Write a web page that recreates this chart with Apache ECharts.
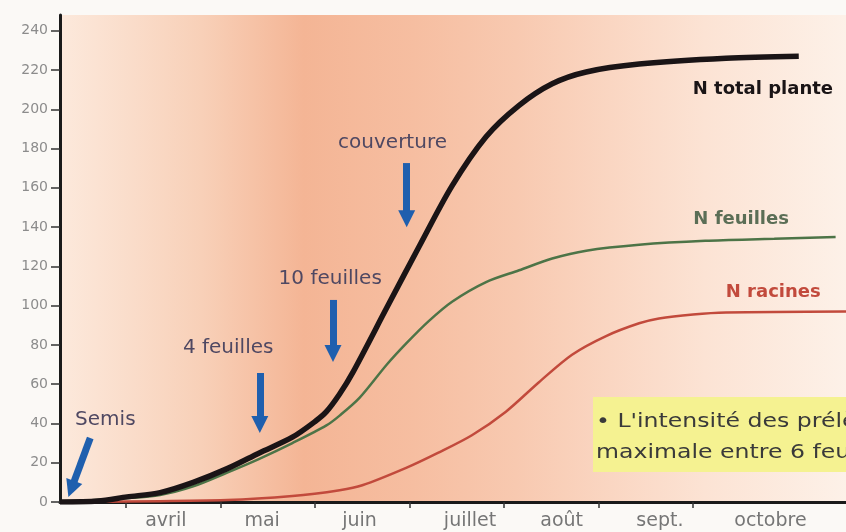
<!DOCTYPE html>
<html>
<head>
<meta charset="utf-8">
<script src="https://cdn.jsdelivr.net/npm/echarts@6/dist/echarts.min.js"></script>
<style>
	html, body { margin: 0; padding: 0; background: #fbf9f6; }
	#chart { width: 846px; height: 532px; }
</style>
</head>
<body>
<div id="chart"></div>
<script>
// axe x en mois, 0 = début avril
const months = ["avril", "mai", "juin", "juillet", "août", "sept.", "octobre"];
const monthStarts = [0, 1, 2, 3, 4, 5, 6];
const monthLabelAt = [0.42, 1.44, 2.47, 3.64, 4.61, 5.65, 6.82];
const yTicks = [0, 20, 40, 60, 80, 100, 120, 140, 160, 180, 200, 220, 240];

// N total plante
const totalX = [-0.7, -0.3, 0.01, 0.36, 0.71, 1.07, 1.41, 1.76, 2.0, 2.12, 2.26, 2.4, 2.76, 3.1, 3.45, 3.81, 4.16, 4.51, 4.87, 5.43, 6.35, 7.12];
const totalY = [0, 0.5, 2.6, 4.8, 10, 17, 25, 33, 41, 46, 55, 66, 99, 130, 161, 186, 202, 213, 219, 223, 226, 227];
// N feuilles
const leafX = [-0.7, 0.01, 0.36, 0.71, 1.07, 1.41, 1.76, 2.12, 2.26, 2.47, 2.76, 2.97, 3.2, 3.45, 3.81, 4.16, 4.51, 4.87, 5.43, 6.13, 6.86, 7.51];
const leafY = [0, 2, 3.6, 8, 15, 22, 30, 39, 44, 53, 70, 81, 92, 102, 112, 118, 124, 128, 131, 133, 134, 135];
// N racines
const rootX = [-0.7, 1.07, 1.76, 2.26, 2.5, 2.97, 3.3, 3.66, 4.02, 4.37, 4.72, 5.08, 5.43, 5.64, 6.0, 6.35, 7.62];
const rootY = [0, 1, 3, 6, 8.5, 17.5, 25, 34, 46, 61, 75, 84.5, 91, 93.5, 95.5, 96.5, 97];

// stades
const stages = ["Semis", "4 feuilles", "10 feuilles", "couverture"];
const stageLabelX = [-0.22, 1.08, 2.16, 2.82];
const stageLabelY = [41.8, 78.4, 113.5, 182.8];
const arrowFrom = [[-0.38, 32.6], [1.415, 65.7], [2.19, 102.9], [2.97, 172.6]];
const arrowTo = [[-0.58, 6.6], [1.415, 39.5], [2.19, 75.6], [2.97, 144.3]];

// noms des courbes
const curveNames = ["N total plante", "N feuilles", "N racines"];
const curveLabelX = [6.74, 6.51, 6.85];
const curveLabelY = [210.3, 144.1, 106.9];

const noteText = "• L'intensité des prélèvements\nmaximale entre 6 feuilles";

const zip = (xs, ys) => xs.map((x, i) => [x, ys[i]]);
const curveColors = ["#1a1416", "#5b6e56", "#c24a3c"];
const font = "DejaVu Sans";

var myChart = echarts.init(document.getElementById("chart"));
var option = {
	animation: false,
	backgroundColor: "#fbf9f6",
	grid: {
		left: 60,
		right: 0,
		top: 15,
		bottom: 30,
		show: true,
		borderWidth: 0,
		backgroundColor: new echarts.graphic.LinearGradient(0, 0, 1, 0, [
			{ offset: 0, color: "#fce9dc" },
			{ offset: 0.18, color: "#f8d0b8" },
			{ offset: 0.31, color: "#f4b595" },
			{ offset: 0.45, color: "#f6bea1" },
			{ offset: 0.58, color: "#f8c9b0" },
			{ offset: 0.7, color: "#fad6c2" },
			{ offset: 0.82, color: "#fce3d4" },
			{ offset: 1, color: "#fdf1e8" },
		]),
	},
	xAxis: {
		type: "value",
		min: -0.7,
		max: 7.62,
		splitLine: { show: false },
		axisLine: { show: true, onZero: false, lineStyle: { color: "#1a1a1a", width: 3 } },
		axisTick: {
			show: true,
			customValues: monthStarts,
			length: 6,
			lineStyle: { color: "#333", width: 1.5 },
		},
		axisLabel: {
			customValues: monthLabelAt,
			margin: 10,
			color: "#767676",
			fontFamily: font,
			fontSize: 19,
			formatter: function (v) {
				var best = 0;
				monthLabelAt.forEach(function (m, i) {
					if (Math.abs(m - v) < Math.abs(monthLabelAt[best] - v)) best = i;
				});
				return months[best];
			},
		},
	},
	yAxis: {
		type: "value",
		min: 0,
		max: 248,
		splitLine: { show: false },
		axisLine: { show: true, onZero: false, lineStyle: { color: "#1a1a1a", width: 3 } },
		axisTick: {
			show: true,
			customValues: yTicks,
			length: 9,
			lineStyle: { color: "#333", width: 1.5 },
		},
		axisLabel: {
			customValues: yTicks,
			margin: 12,
			color: "#8c8c8c",
			fontFamily: font,
			fontSize: 14,
		},
	},
	series: [
		{
			name: "N racines",
			type: "line",
			data: zip(rootX, rootY),
			showSymbol: false,
			smooth: 0.3,
			lineStyle: { color: curveColors[2], width: 2.5 },
			z: 2,
		},
		{
			name: "N feuilles",
			type: "line",
			data: zip(leafX, leafY),
			showSymbol: false,
			smooth: 0.3,
			lineStyle: { color: "#4d7447", width: 2.5 },
			z: 3,
		},
		{
			name: "N total plante",
			type: "line",
			data: zip(totalX, totalY),
			showSymbol: false,
			smooth: 0.3,
			lineStyle: { color: curveColors[0], width: 5.5 },
			z: 4,
		},
		{
			name: "noms",
			type: "scatter",
			symbolSize: 1,
			itemStyle: { color: "transparent", opacity: 1 },
			silent: true,
			data: curveNames.map(function (n, i) {
				return {
					name: n,
					value: [curveLabelX[i], curveLabelY[i]],
					label: { color: curveColors[i] },
				};
			}),
			label: {
				show: true,
				position: "inside",
				formatter: "{b}",
				fontFamily: font,
				fontWeight: "bold",
				fontSize: 18,
			},
			z: 5,
		},
		{
			name: "stades",
			type: "scatter",
			symbolSize: 1,
			itemStyle: { color: "transparent", opacity: 1 },
			silent: true,
			data: stages.map(function (n, i) {
				return { name: n, value: [stageLabelX[i], stageLabelY[i]] };
			}),
			label: {
				show: true,
				position: "inside",
				formatter: "{b}",
				color: "#4f4862",
				fontFamily: font,
				fontSize: 20,
			},
			markLine: {
				silent: true,
				symbol: ["none", "triangle"],
				symbolSize: 17,
				label: { show: false },
				lineStyle: { color: "#1f5fae", width: 7, type: "solid" },
				data: arrowFrom.map(function (p, i) {
					return [{ coord: p }, { coord: arrowTo[i] }];
				}),
			},
			z: 6,
		},
	],
	graphic: [
		{
			type: "rect",
			shape: { x: 593, y: 397, width: 260, height: 75 },
			style: { fill: "#f5f291" },
			z: 10,
		},
		{
			type: "text",
			x: 596,
			y: 406,
			scaleX: 1.18,
			style: {
				text: noteText,
				font: "20px \"DejaVu Sans\"",
				fill: "#3a3a3a",
				lineHeight: 31,
			},
			z: 11,
		},
	],
};

option && myChart.setOption(option);
</script>
</body>
</html>
